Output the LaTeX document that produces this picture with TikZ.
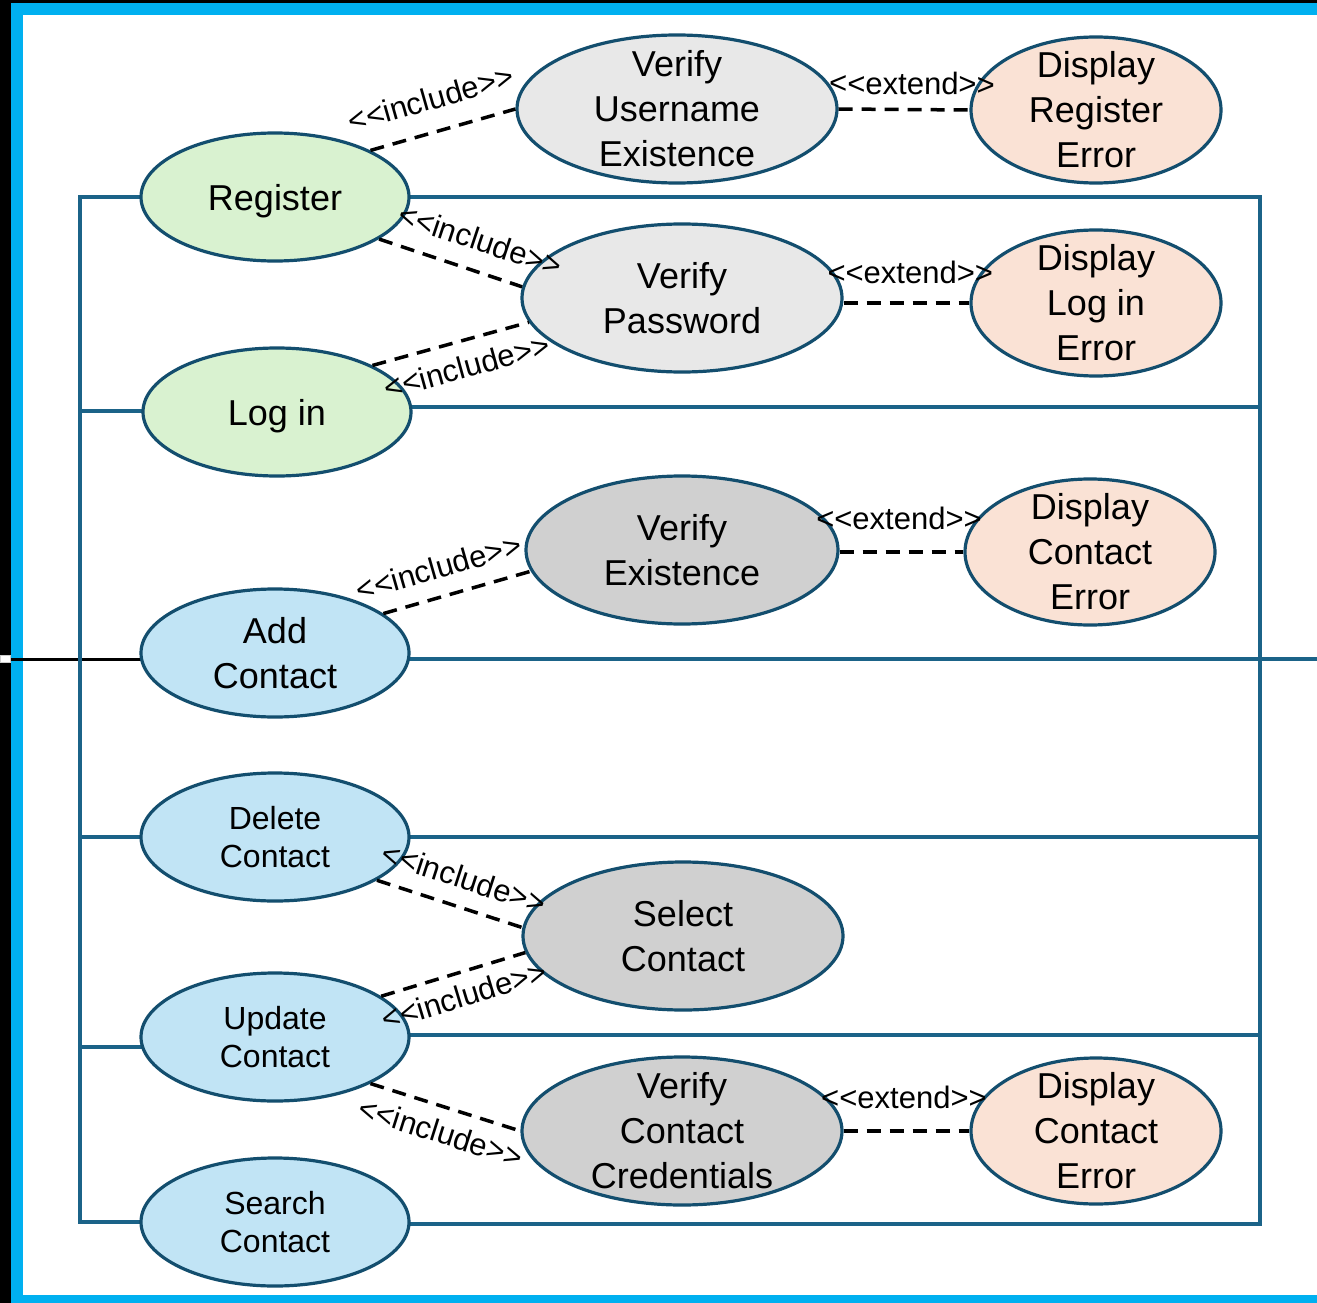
\documentclass[tikz,border=0pt]{standalone}
\usepackage{fontspec}
\setmainfont{Liberation Sans}
\usetikzlibrary{shapes.geometric}
\pgfdeclarelayer{bottom}
\pgfdeclarelayer{background}
\pgfsetlayers{bottom,background,main}
\definecolor{cyanb}{HTML}{00B0F0}
\definecolor{sysline}{HTML}{1B6388}
\definecolor{ucborder}{HTML}{134E6E}
\definecolor{fgreen}{HTML}{D9F2D0}
\definecolor{fblue}{HTML}{C1E4F5}
\definecolor{flgray}{HTML}{E8E8E8}
\definecolor{fgray}{HTML}{D0D0D0}
\definecolor{fpeach}{HTML}{FAE2D5}
\newcommand{\inctxt}{<\kern0pt<include>\kern0pt>}
\newcommand{\exttxt}{<\kern0pt<extend>\kern0pt>}
\begin{document}
\begin{tikzpicture}[x=1pt,y=-1pt,
  uc/.style={ellipse, draw=ucborder, line width=3.2pt, inner xsep=0pt, inner ysep=-30pt, align=center, text=black},
  big/.style={font=\fontsize{36}{45}\selectfont},
  small/.style={font=\fontsize{32}{38}\selectfont},
  actor/.style={uc, minimum width=268pt, minimum height=128pt},
  incase/.style={uc, minimum width=320pt, minimum height=148pt, big},
  err/.style={uc, fill=fpeach, minimum width=250pt, minimum height=146pt, big},
  rel/.style={black, line width=3.5pt, dash pattern=on 14pt off 9pt},
  lbl/.style={font=\fontsize{31}{32}\selectfont, sloped, inner sep=0pt},
  sys/.style={draw=sysline, line width=3.2pt, line cap=rect}
]
\useasboundingbox (0,0) rectangle (1317,1303);
\begin{pgfonlayer}{bottom}
  \fill[white] (0,0) rectangle (1317,1303);
  \fill[black] (0,0) rectangle (11,1303);
  \fill[black] (0,0) rectangle (1317,3);
  \fill[cyanb] (11,3) rectangle (23,1303);
  \fill[cyanb] (11,3) rectangle (1317,15);
  \fill[cyanb] (11,1295) rectangle (1317,1303);
\end{pgfonlayer}

% actors' use cases
\node[actor, big, fill=fgreen, text depth=0pt] (reg) at (275,197) {Register};
\node[actor, big, fill=fgreen, text depth=0pt] (log) at (277,412) {Log in};
\node[actor, big, fill=fblue] (add) at (275,653) {Add\\Contact};
\node[actor, small, fill=fblue] (del) at (275,837) {Delete\\Contact};
\node[actor, small, fill=fblue] (upd) at (275,1037) {Update\\Contact};
\node[actor, small, fill=fblue] (sea) at (275,1222) {Search\\Contact};
% included use cases
\node[incase, fill=flgray] (vue) at (677,109) {Verify\\Username\\Existence};
\node[incase, fill=flgray] (vp) at (682,298) {Verify\\Password};
\node[incase, fill=fgray, minimum width=312pt] (ve) at (682,550) {Verify\\Existence};
\node[incase, fill=fgray] (sel) at (683,936) {Select\\Contact};
\node[incase, fill=fgray] (vcc) at (682,1131) {Verify\\Contact\\Credentials};
% extending use cases
\node[err] (dre) at (1096,110) {Display\\Register\\Error};
\node[err] (dle) at (1096,303) {Display\\Log in\\Error};
\node[err] (dce) at (1090,552) {Display\\Contact\\Error};
\node[err] (dce2) at (1096,1131) {Display\\Contact\\Error};

% frame coordinates
\coordinate (lt) at (80,197);
\coordinate (lb) at (80,1222);
\coordinate (rt) at (1260,197);
\coordinate (rb) at (1260,1224);
\coordinate (ledge) at (0,659);
\coordinate (redge) at (1317,659);

\begin{pgfonlayer}{background}
  \draw[black, line width=3pt] (ledge) -- (add.center |- ledge);
  \fill[white, draw=gray!40, line width=0.8pt] (0,655.5) rectangle (10,662.5);
  \draw[sys] (lt) -- (lb);
  \draw[sys] (rt) -- (rb);
  \draw[sys] (lt) -- (reg.center) -- (rt);
  \draw[sys] (lt |- 0,411) -- (log.center |- 0,411);
  \draw[sys] (log.center |- 0,407) -- (rt |- 0,407);
  \draw[sys, line cap=butt] (add.center |- redge) -- (redge);
  \draw[sys] (lt |- del.center) -- (del.center) -- (rt |- del.center);
  \draw[sys] (lt |- 0,1047) -- (upd.center |- 0,1047);
  \draw[sys] (upd.center |- 0,1035) -- (rt |- 0,1035);
  \draw[sys] (lb) -- (sea.center);
  \draw[sys] (sea.center |- rb) -- (rb);
\end{pgfonlayer}

% include relations
\draw[rel] (reg.26) -- (vue.west) node[lbl, pos=0.48, above=20pt] {\inctxt};
\draw[rel] (reg.338) -- (vp.176) node[lbl, pos=0.64, above=18pt] {\inctxt};
\draw[rel] (log.26) -- (vp.189) node[lbl, pos=0.56, below=13pt] {\inctxt};
\draw[rel] (add.20) -- (ve.188) node[lbl, pos=0.43, above=16pt] {\inctxt};
\draw[rel] (del.337) -- (sel.177) node[lbl, pos=0.54, above=16pt] {\inctxt};
\draw[rel] (upd.21) -- (sel.186) node[lbl, pos=0.53, below=10pt] {\inctxt};
\draw[rel] (upd.334) -- (vcc.west) node[lbl, pos=0.52, below=12pt] {\inctxt};
% extend relations
\draw[rel] (vue.east) -- (dre.west) node[lbl, pos=0.56, above=13pt] {\exttxt};
\draw[rel] (vp.east |- dle.west) -- (dle.west) node[lbl, pos=0.53, above=17pt] {\exttxt};
\draw[rel] (ve.east |- dce.west) -- (dce.west) node[lbl, pos=0.48, above=20pt] {\exttxt};
\draw[rel] (vcc.east) -- (dce2.west) node[lbl, pos=0.48, above=20pt] {\exttxt};
\end{tikzpicture}
\end{document}
